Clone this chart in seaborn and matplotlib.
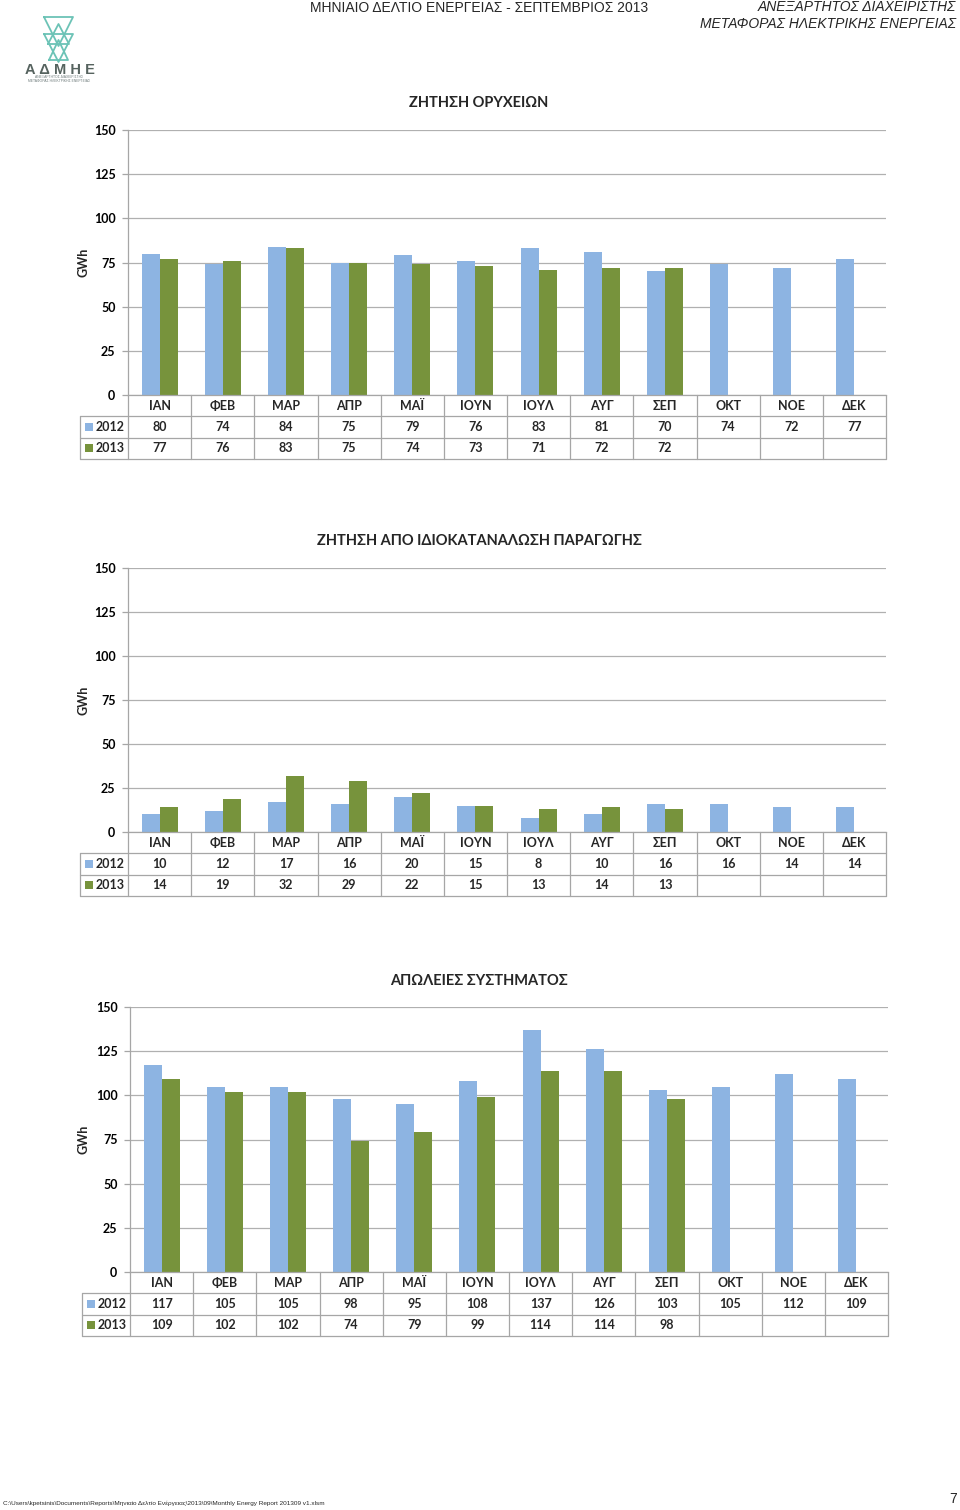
import numpy as np
import pandas as pd
import matplotlib
matplotlib.use('Agg')
import matplotlib.pyplot as plt
import seaborn as sns

# ---------------- data ----------------
months = ['ΙΑΝ', 'ΦΕΒ', 'ΜΑΡ', 'ΑΠΡ', 'ΜΑΪ', 'ΙΟΥΝ', 'ΙΟΥΛ', 'ΑΥΓ', 'ΣΕΠ', 'ΟΚΤ', 'ΝΟΕ', 'ΔΕΚ']
years = ['2012', '2013']
mines_2012 = [80, 74, 84, 75, 79, 76, 83, 81, 70, 74, 72, 77]
mines_2013 = [77, 76, 83, 75, 74, 73, 71, 72, 72]
self_2012 = [10, 12, 17, 16, 20, 15, 8, 10, 16, 16, 14, 14]
self_2013 = [14, 19, 32, 29, 22, 15, 13, 14, 13]
loss_2012 = [117, 105, 105, 98, 95, 108, 137, 126, 103, 105, 112, 109]
loss_2013 = [109, 102, 102, 74, 79, 99, 114, 114, 98]
titles = ['ΖΗΤΗΣΗ ΟΡΥΧΕΙΩΝ', 'ΖΗΤΗΣΗ ΑΠΟ ΙΔΙΟΚΑΤΑΝΑΛΩΣΗ ΠΑΡΑΓΩΓΗΣ', 'ΑΠΩΛΕΙΕΣ ΣΥΣΤΗΜΑΤΟΣ']
yticks = [0, 25, 50, 75, 100, 125, 150]
unit = 'GWh'
header_center = 'ΜΗΝΙΑΙΟ ΔΕΛΤΙΟ ΕΝΕΡΓΕΙΑΣ - ΣΕΠΤΕΜΒΡΙΟΣ 2013'
header_right = ['ΑΝΕΞΑΡΤΗΤΟΣ ΔΙΑΧΕΙΡΙΣΤΗΣ', 'ΜΕΤΑΦΟΡΑΣ ΗΛΕΚΤΡΙΚΗΣ ΕΝΕΡΓΕΙΑΣ']
footer = 'C:\\Users\\kpetsinis\\Documents\\Reports\\Μηνιαίο Δελτίο Ενέργειας\\2013\\09\\Monthly Energy Report 201309 v1.xlsm'
page_no = '7'

colors = {'2012': '#8DB4E2', '2013': '#77933C'}

sns.set_theme(style='white')
plt.rcParams['font.family'] = ['Lato', 'DejaVu Sans']

W, H = 960, 1510
fig = plt.figure(figsize=(W / 100, H / 100), dpi=100)


def fx(px):
    return px / W


def fy(py):
    return 1 - py / H


grid_c = '#B0B0B0'
line_c = '#A6A6A6'
FS = 9

specs = [
    (titles[0], mines_2012, mines_2013, 395, 130, 128, 886, 103, 80),
    (titles[1], self_2012, self_2013, 832, 568, 128, 886, 541, 80),
    (titles[2], loss_2012, loss_2013, 1272, 1007, 130, 888, 981, 82),
]

n = len(months)
for title, v12, v13, y0, y150, left, right, ty, tleft in specs:
    ax = fig.add_axes([fx(left), fy(y0), fx(right - left), (y0 - y150) / H])
    rows = []
    for i, m in enumerate(months):
        rows.append({'month': m, 'year': '2012', 'value': v12[i]})
        if i < len(v13):
            rows.append({'month': m, 'year': '2013', 'value': v13[i]})
    df = pd.DataFrame(rows)
    sns.barplot(data=df, x='month', y='value', hue='year', order=months,
                hue_order=years, palette=colors, width=0.57, saturation=1,
                legend=False, ax=ax, errorbar=None, linewidth=0)
    ax.set_xlim(-0.5, n - 0.5)
    ax.set_ylim(0, 150)
    ax.set_yticks(yticks)
    ax.set_yticklabels([str(t) for t in yticks], fontsize=FS, fontweight='bold')
    ax.set_xticks([])
    ax.set_xlabel('')
    ax.set_ylabel(unit, fontsize=FS, fontweight='bold')
    ax.yaxis.set_label_coords((89 - left) / (right - left), 0.5)
    ax.grid(axis='y', color=grid_c, lw=0.9)
    ax.set_axisbelow(True)
    for s in ['top', 'right']:
        ax.spines[s].set_visible(False)
    ax.spines['left'].set_color(line_c)
    ax.spines['bottom'].set_color(line_c)
    ax.spines['left'].set_linewidth(0.9)
    ax.spines['bottom'].set_linewidth(0.9)
    ax.tick_params(axis='y', left=True, length=4, width=0.9, pad=5, labelcolor='black', color=line_c)

    fig.text(fx(479), fy(ty), title, ha='center', va='center', fontsize=10.5, fontweight='bold')

    # data table
    unit_px = (right - left) / n
    leg_w = (left - tleft) / unit_px
    tax = fig.add_axes([fx(tleft), fy(y0 + 64), fx(right - tleft), 64 / H])
    tax.set_xlim(-0.5 - leg_w, n - 0.5)
    tax.set_ylim(3, 0)
    tax.axis('off')
    for yy in (1, 2, 3):
        tax.plot([-0.5 - leg_w, n - 0.5], [yy, yy], color=line_c, lw=0.9, clip_on=False)
    for k in range(n + 1):
        tax.plot([k - 0.5, k - 0.5], [0, 3], color=line_c, lw=0.9, clip_on=False)
    tax.plot([-0.5 - leg_w] * 2, [1, 3], color=line_c, lw=0.9, clip_on=False)
    for i, m in enumerate(months):
        tax.text(i, 0.5, m, ha='center', va='center', fontsize=FS, fontweight='bold')
    for r, (yr, vals) in enumerate(zip(years, [v12, v13])):
        for i, v in enumerate(vals):
            tax.text(i, 1.5 + r, str(v), ha='center', va='center', fontsize=FS, fontweight='bold')
        tax.scatter([-0.5 - leg_w + 9 / unit_px], [1.5 + r], marker='s', s=32,
                    color=colors[yr], clip_on=False, linewidths=0)
        tax.text(-0.5 - leg_w + 15.5 / unit_px, 1.5 + r, yr, ha='left', va='center',
                 fontsize=FS, fontweight='bold')

# header
fig.text(fx(479), fy(8), header_center, ha='center', va='center', fontsize=10,
         family=['Liberation Sans', 'DejaVu Sans'])
fig.text(fx(956), fy(7), header_right[0], ha='right', va='center', fontsize=10,
         style='italic', family=['Liberation Sans', 'DejaVu Sans'])
fig.text(fx(956), fy(24), header_right[1], ha='right', va='center', fontsize=10,
         style='italic', family=['Liberation Sans', 'DejaVu Sans'])

# logo (decorative)
lax = fig.add_axes([fx(20), fy(90), fx(80), 80 / H])
lax.set_xlim(20, 100)
lax.set_ylim(90, 10)
lax.axis('off')
teal = '#6CC3B6'
for tri in [[(44, 17), (73, 17), (58.5, 46)], [(48, 44), (69, 44), (58.5, 24)],
            [(44, 34), (73, 34), (58.5, 62)], [(49, 60), (68, 60), (58.5, 40)]]:
    xs = [p[0] for p in tri] + [tri[0][0]]
    ys = [p[1] for p in tri] + [tri[0][1]]
    lax.plot(xs, ys, color=teal, lw=1.3)
lax.text(59.5, 70.5, 'Α Δ Μ Η Ε', ha='center', va='center', fontsize=10.5, fontweight='bold',
         color='#56635F', family=['Liberation Sans', 'DejaVu Sans'])
lax.text(59, 77.5, 'ΑΝΕΞΑΡΤΗΤΟΣ ΔΙΑΧΕΙΡΙΣΤΗΣ', ha='center', va='center', fontsize=2.4,
         color='#6E7B7B', family=['Liberation Sans', 'DejaVu Sans'])
lax.text(59, 81, 'ΜΕΤΑΦΟΡΑΣ ΗΛΕΚΤΡΙΚΗΣ ΕΝΕΡΓΕΙΑΣ', ha='center', va='center', fontsize=2.4,
         color='#6E7B7B', family=['Liberation Sans', 'DejaVu Sans'])

# footer
fig.text(fx(3), fy(1503), footer, ha='left', va='center', fontsize=4.6,
         family=['Liberation Sans', 'DejaVu Sans'])
fig.text(fx(957), fy(1499), page_no, ha='right', va='center', fontsize=10,
         family=['Liberation Sans', 'DejaVu Sans'])

fig.savefig('out.png', dpi=100)
